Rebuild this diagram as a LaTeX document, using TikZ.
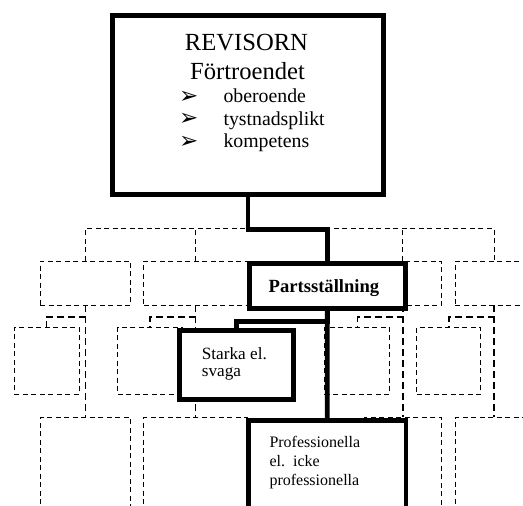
\documentclass[tikz,border=0pt]{standalone}
\usepackage{fontspec}
\setmainfont{Liberation Serif}
\newfontfamily\djv{DejaVu Sans}
\begin{document}
\begin{tikzpicture}[x=1pt,y=-1pt,
  dbox/.style={draw, line width=0.9pt, dash pattern=on 5pt off 3.5pt, inner sep=0pt},
  dbus/.style={line width=0.9pt, dash pattern=on 5pt off 3.5pt},
  dconn/.style={line width=1.6pt, dash pattern=on 7pt off 4pt},
  tbox/.style={draw, line width=4.8pt, fill=white, inner sep=0pt},
  tline/.style={line width=4.8pt},
  txt/.style={inner sep=0pt, anchor=base west},
  ctxt/.style={inner sep=0pt, anchor=base},
  arr/.style={inner sep=0pt, anchor=base west, font=\djv\fontsize{23pt}{23pt}\selectfont}]
\useasboundingbox (0,0) rectangle (523,506);
\clip (0,0) rectangle (523,506);
\coordinate (bus) at (0,228.5);
\coordinate (tbus) at (0,229.5);
% row 2 dashed boxes
\node[dbox, minimum width=90.4pt, minimum height=44pt] (A) at (85.5,283) {};
\node[dbox, minimum width=103.3pt, minimum height=44pt] (B) at (195.35,283) {};
\node[dbox, minimum width=77.7pt, minimum height=44pt] (D) at (402.85,283) {};
\node[dbox, minimum width=78pt, minimum height=44pt] (E) at (494,283) {};
% row 3 dashed boxes
\node[dbox, minimum width=65pt, minimum height=67pt] (F) at (46.5,360.8) {};
\node[dbox, minimum width=64.6pt, minimum height=67pt] (H) at (150,360.8) {};
\node[dbox, minimum width=65pt, minimum height=67pt] (J) at (357.3,360.8) {};
\node[dbox, minimum width=64pt, minimum height=67pt] (K) at (448.7,360.8) {};
% row 4 dashed boxes
\node[dbox, minimum width=90.4pt, minimum height=120pt] (G) at (85.5,477.7) {};
\node[dbox, minimum width=103.3pt, minimum height=120pt] (I) at (195.35,477.7) {};
\node[dbox, minimum width=77.7pt, minimum height=120pt] (L) at (402.85,477.7) {};
\node[dbox, minimum width=78pt, minimum height=120pt] (M) at (494,477.7) {};
% dashed bus
\draw[dbus] (A.north) -- (A.north |- bus) -- (E.north |- bus) -- (E.north);
\draw[dbus] (B.north) -- (B.north |- bus);
\draw[dbus] (D.north) -- (D.north |- bus);
% dashed connectors
\draw[dconn] (A.south) -- ++(0,11.7) -| (F.north);
\draw[dconn] (B.south) -- ++(0,11.7) -| (H.north);
\draw[dconn] (D.south) -- ++(0,11.7) -| (J.north);
\draw[dconn] (E.south) -- ++(0,11.7) -| (K.north);
\draw[dconn] (A.south) -- (G.north);
\draw[dconn] (B.south) -- (I.north);
\draw[dconn] (D.south) -- (L.north);
\draw[dconn] (E.south) -- (M.north);
% thick boxes
\node[tbox, minimum width=271.2pt, minimum height=179.5pt] (rev) at (248,104.85) {};
\node[tbox, minimum width=156.5pt, minimum height=45.2pt] (part) at (327.35,285.7) {};
\node[tbox, minimum width=113.6pt, minimum height=68.6pt] (starka) at (236.5,365) {};
\node[tbox, minimum width=157.5pt, minimum height=115pt] (prof) at (327.15,478.2) {};
% thick connectors
\draw[tline] (rev.south) -- (rev.south |- tbus) -| (part.north);
\draw[tline] (part.south) -- ++(0,10.7) -| (starka.north);
\draw[tline] (part.south) -- (prof.north);
% texts
\node[ctxt, font=\fontsize{24.6pt}{29pt}\selectfont] (t1) at (246.5,50) {REVISORN};
\node[ctxt, font=\fontsize{24.6pt}{29pt}\selectfont] (t2) at (247.5,79) {Förtroendet};
\node[arr] (b1) at (179,103.2) {➢};
\node[arr] (b2) at (179,125.7) {➢};
\node[arr] (b3) at (179,148.2) {➢};
\node[txt, font=\fontsize{19.8pt}{22pt}\selectfont] (i1) at (223.3,102.7) {oberoende};
\node[txt, font=\fontsize{19.8pt}{22pt}\selectfont] (i2) at (223.3,125.2) {tystnadsplikt};
\node[txt, font=\fontsize{19.8pt}{22pt}\selectfont] (i3) at (223.3,147.7) {kompetens};
\node[ctxt, font=\bfseries\fontsize{18.6pt}{22pt}\selectfont] (pt) at (324,292.7) {Partsställning};
\node[txt, font=\fontsize{17.2pt}{20pt}\selectfont] (s1) at (201.7,359.3) {Starka el.};
\node[txt, font=\fontsize{17.2pt}{20pt}\selectfont] (s2) at (201.7,376) {svaga};
\node[txt, font=\fontsize{16pt}{19pt}\selectfont] (p1) at (269.3,447.7) {Professionella};
\node[txt, font=\fontsize{16pt}{19pt}\selectfont] (p2) at (269.3,466.7) {el.\ \ icke};
\node[txt, font=\fontsize{16pt}{19pt}\selectfont] (p3) at (269.3,485) {professionella};
\end{tikzpicture}
\end{document}
